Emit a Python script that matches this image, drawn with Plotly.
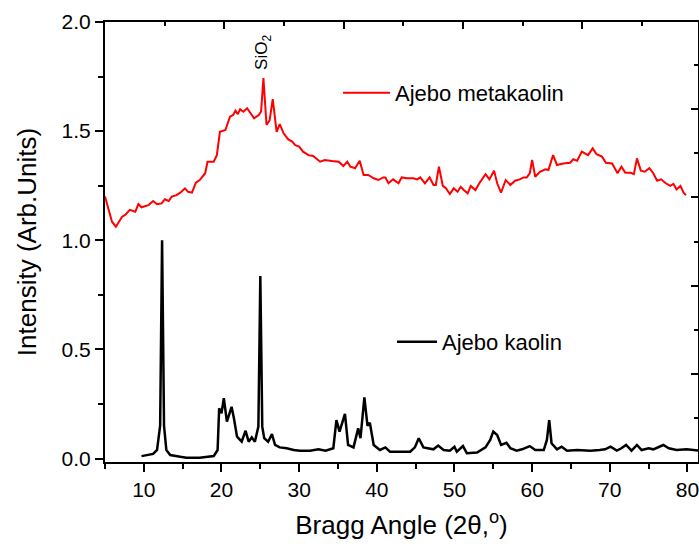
import plotly.graph_objects as go

# Ajebo metakaolin (red)
meta_angle = [5.0, 5.9, 6.4, 7.2, 7.6, 8.2, 8.9, 9.3, 9.7, 10.6, 11.2, 11.7, 12.3, 12.7, 13.2, 13.6,
              14.2, 14.7, 15.3, 15.7, 16.2, 16.7, 17.2, 17.9, 18.2, 19.0, 19.4, 19.8, 20.5, 21.1,
              21.5, 21.8, 22.1, 22.4, 22.8, 23.3, 23.7, 24.2, 24.8, 25.1, 25.4, 25.8, 26.2, 26.6,
              27.1, 27.5, 28.0, 28.6, 29.1, 29.5, 30.0, 30.5, 31.2, 31.8, 32.7, 33.3, 34.2, 35.1,
              35.7, 36.2, 36.6, 37.2, 37.8, 38.3, 38.9, 39.6, 40.2, 40.8, 41.1, 41.5, 42.1, 42.8,
              43.2, 43.9, 44.7, 45.2, 45.6, 46.2, 46.8, 47.3, 47.6, 48.0, 48.5, 48.9, 49.4, 49.9,
              50.4, 50.8, 51.2, 51.7, 52.1, 52.7, 53.2, 54.0, 54.5, 55.1, 55.5, 56.0, 56.6, 57.2,
              57.8, 58.4, 58.9, 59.3, 59.7, 60.0, 60.4, 61.0, 61.7, 62.1, 62.7, 63.2, 64.0, 64.9,
              65.3, 65.8, 66.4, 67.2, 67.8, 68.3, 69.0, 69.5, 70.3, 71.0, 71.5, 72.0, 72.7, 73.1,
              73.5, 74.0, 74.5, 75.1, 75.6, 76.1, 76.6, 77.2, 77.8, 78.2, 78.6, 79.1, 79.5, 79.8]
meta_intensity = [1.20, 1.085, 1.062, 1.108, 1.116, 1.139, 1.131, 1.166, 1.151, 1.161, 1.18, 1.165,
                  1.169, 1.188, 1.18, 1.20, 1.207, 1.218, 1.238, 1.222, 1.218, 1.264, 1.276, 1.307,
                  1.36, 1.36, 1.39, 1.497, 1.505, 1.566, 1.574, 1.594, 1.578, 1.60, 1.589, 1.605,
                  1.584, 1.559, 1.574, 1.59, 1.743, 1.528, 1.55, 1.647, 1.497, 1.532, 1.49, 1.462,
                  1.452, 1.436, 1.429, 1.406, 1.39, 1.386, 1.36, 1.368, 1.363, 1.36, 1.34, 1.36,
                  1.337, 1.33, 1.364, 1.299, 1.299, 1.284, 1.276, 1.288, 1.288, 1.261, 1.279, 1.261,
                  1.288, 1.284, 1.284, 1.279, 1.288, 1.261, 1.288, 1.253, 1.253, 1.337, 1.249, 1.238,
                  1.212, 1.238, 1.222, 1.245, 1.23, 1.215, 1.249, 1.23, 1.261, 1.303, 1.279, 1.319,
                  1.261, 1.218, 1.276, 1.253, 1.273, 1.279, 1.288, 1.288, 1.307, 1.368, 1.291, 1.314,
                  1.325, 1.322, 1.39, 1.345, 1.352, 1.355, 1.371, 1.364, 1.406, 1.39, 1.421, 1.394,
                  1.383, 1.355, 1.352, 1.307, 1.337, 1.309, 1.309, 1.303, 1.375, 1.319, 1.314, 1.33,
                  1.307, 1.273, 1.279, 1.261, 1.249, 1.258, 1.233, 1.249, 1.218, 1.207]

# Ajebo kaolin (black)
kao_angle = [9.7, 10.4, 11.2, 11.7, 12.1, 12.35, 12.6, 12.9, 13.4, 14.7, 15.5, 17.2, 19.0, 19.5,
             19.7, 20.0, 20.3, 20.7, 21.3, 21.6, 22.0, 22.6, 23.1, 23.5, 23.9, 24.3, 24.75, 25.0,
             25.25, 25.5, 26.0, 26.5, 26.9, 27.5, 28.4, 29.3, 30.1, 31.4, 32.5, 33.4, 34.4, 34.8,
             35.2, 35.9, 36.3, 37.0, 37.6, 37.9, 38.4, 38.8, 39.1, 39.6, 40.4, 41.1, 41.7, 42.8,
             44.3, 44.9, 45.4, 46.0, 46.6, 47.3, 47.9, 48.6, 49.4, 50.0, 50.3, 51.1, 51.6, 52.9,
             54.0, 54.6, 55.0, 55.5, 56.0, 56.7, 57.2, 58.0, 58.7, 59.7, 60.4, 61.5, 61.9, 62.2,
             62.5, 63.2, 63.8, 64.5, 65.8, 67.5, 68.7, 69.4, 70.1, 70.9, 71.5, 72.1, 72.8, 73.5,
             74.1, 75.0, 75.6, 76.3, 76.9, 77.6, 78.6, 79.9, 80.8, 81.5]
kao_intensity = [0.011, 0.016, 0.021, 0.039, 0.15, 1.0, 0.15, 0.039, 0.016, 0.008, 0.004, 0.004,
                 0.011, 0.039, 0.23, 0.207, 0.276, 0.169, 0.237, 0.184, 0.10, 0.077, 0.127, 0.077,
                 0.097, 0.077, 0.146, 0.836, 0.146, 0.093, 0.077, 0.112, 0.062, 0.051, 0.047, 0.039,
                 0.036, 0.036, 0.042, 0.036, 0.047, 0.176, 0.123, 0.204, 0.062, 0.051, 0.138, 0.093,
                 0.28, 0.15, 0.164, 0.062, 0.039, 0.051, 0.031, 0.031, 0.031, 0.051, 0.093, 0.051,
                 0.047, 0.042, 0.059, 0.039, 0.036, 0.054, 0.031, 0.057, 0.024, 0.027, 0.051, 0.085,
                 0.123, 0.108, 0.062, 0.072, 0.047, 0.036, 0.042, 0.057, 0.039, 0.039, 0.085, 0.176,
                 0.07, 0.042, 0.054, 0.036, 0.039, 0.036, 0.039, 0.042, 0.054, 0.036, 0.047, 0.062,
                 0.036, 0.062, 0.039, 0.047, 0.042, 0.051, 0.062, 0.047, 0.039, 0.042, 0.039, 0.036]

y_ticks = [0.0, 0.5, 1.0, 1.5, 2.0]
y_tick_labels = ["0.0", "0.5", "1.0", "1.5", "2.0"]
y_minor_ticks = [0.25, 0.75, 1.25, 1.75]
x_ticks = [10, 20, 30, 40, 50, 60, 70, 80]
x_tick_labels = ["10", "20", "30", "40", "50", "60", "70", "80"]
x_minor_ticks = [5, 15, 25, 35, 45, 55, 65, 75]

FONT = "Liberation Sans, Arial, sans-serif"

fig = go.Figure()
fig.add_trace(go.Scatter(x=meta_angle, y=meta_intensity, mode="lines", name="Ajebo metakaolin",
                         line=dict(color="#ff0000", width=2), legend="legend"))
fig.add_trace(go.Scatter(x=kao_angle, y=kao_intensity, mode="lines", name="Ajebo kaolin",
                         line=dict(color="#000000", width=2.5), legend="legend2"))
# helper trace so that the top/right frame axes are drawn
fig.add_trace(go.Scatter(x=[None], y=[None], xaxis="x2", yaxis="y2", showlegend=False,
                         hoverinfo="skip"))

fig.update_layout(
    width=699, height=547,
    margin=dict(l=105, r=1, t=22, b=85),
    paper_bgcolor="white", plot_bgcolor="white",
    font=dict(family=FONT, color="black"),
    xaxis=dict(range=[5, 81.36], tickmode="array", tickvals=x_ticks, ticktext=x_tick_labels,
               ticks="outside", ticklen=8, tickwidth=1.5, tickcolor="black",
               showline=True, linecolor="black", linewidth=2, showgrid=False, zeroline=False,
               tickfont=dict(size=21), ticklabeloverflow="allow",
               minor=dict(tickmode="array", tickvals=x_minor_ticks, ticks="outside", ticklen=5,
                          tickwidth=1.5, tickcolor="black", showgrid=False),
               title=dict(text="Bragg Angle (2θ,<sup>o</sup>)", font=dict(size=26), standoff=16)),
    yaxis=dict(range=[-0.016, 2.0], tickmode="array", tickvals=y_ticks, ticktext=y_tick_labels,
               ticks="outside", ticklen=8, tickwidth=1.5, tickcolor="black",
               showline=True, linecolor="black", linewidth=2, showgrid=False, zeroline=False,
               tickfont=dict(size=21),
               minor=dict(tickmode="array", tickvals=y_minor_ticks, ticks="outside", ticklen=5,
                          tickwidth=1.5, tickcolor="black", showgrid=False),
               title=dict(text="Intensity (Arb.Units)", font=dict(size=26), standoff=17)),
    xaxis2=dict(overlaying="x", side="top", anchor="y", range=[0, 4.97], dtick=1, tick0=0,
                ticks="inside", ticklen=7, tickwidth=1.5, tickcolor="black",
                showline=True, linecolor="black", linewidth=2, showgrid=False, zeroline=False,
                showticklabels=False,
                minor=dict(dtick=0.5, ticks="inside", ticklen=4, tickwidth=1.5, tickcolor="black")),
    yaxis2=dict(overlaying="y", side="right", anchor="x", range=[0, 4.99], dtick=1, tick0=0,
                ticks="inside", ticklen=7, tickwidth=1.5, tickcolor="black",
                showline=True, linecolor="black", linewidth=2, showgrid=False, zeroline=False,
                showticklabels=False,
                minor=dict(dtick=0.5, ticks="inside", ticklen=4, tickwidth=1.5, tickcolor="black")),
    legend=dict(x=0.393, y=0.8386, xanchor="left", yanchor="middle", bgcolor="rgba(0,0,0,0)",
                font=dict(size=22), itemwidth=47, borderwidth=0),
    legend2=dict(x=0.484, y=0.2727, xanchor="left", yanchor="middle", bgcolor="rgba(0,0,0,0)",
                 font=dict(size=22), itemwidth=40, borderwidth=0),
    showlegend=True,
)

fig.add_annotation(x=25.4, y=1.771, xref="x", yref="y", text="SiO<sub>2</sub>", textangle=-90,
                   showarrow=False, xanchor="center", yanchor="bottom", font=dict(size=17))

fig.write_html("out.html")
